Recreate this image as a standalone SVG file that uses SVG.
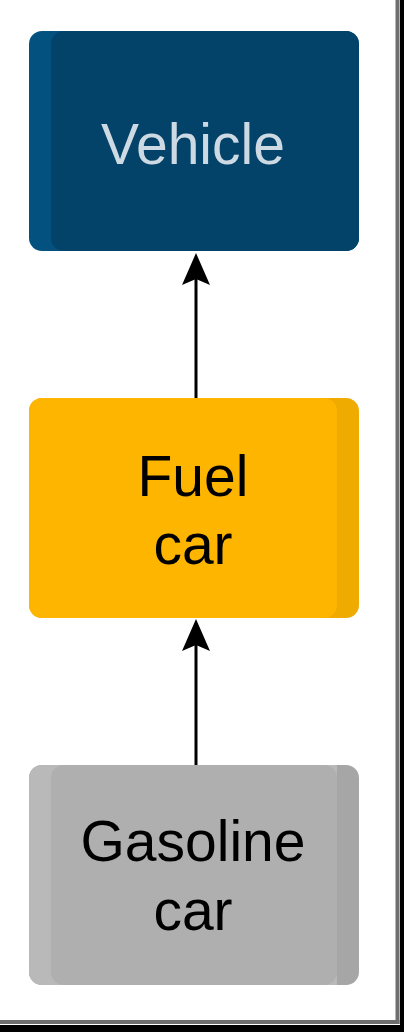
<svg xmlns="http://www.w3.org/2000/svg" width="404" height="1032" viewBox="0 0 404 1032">
  <style>
    .lbl { font-family: "Liberation Sans", Arial, Helvetica, sans-serif; font-size: 57px; text-anchor: middle; }
    .conn { stroke: #000; stroke-width: 3; fill: none; }
  </style>
  <defs>
    <marker id="arr" markerUnits="userSpaceOnUse" markerWidth="34" markerHeight="30" refX="7" refY="15" orient="auto" viewBox="0 0 34 30">
      <path d="M33 15 L1 1 L7 15 L1 29 Z" fill="#000"/>
    </marker>
    <clipPath id="c1"><rect x="29" y="31" width="330" height="220" rx="13"/></clipPath>
    <clipPath id="c2"><rect x="29" y="398" width="330" height="220" rx="13"/></clipPath>
    <clipPath id="c3"><rect x="29" y="765" width="330" height="220" rx="13"/></clipPath>
  </defs>
  <rect width="404" height="1032" fill="#fff"/>
  <!-- frame -->
  <rect x="395.5" y="0" width="4" height="1024" fill="#6e6e6e"/>
  <rect x="0" y="1020" width="399.5" height="4" fill="#6e6e6e"/>
  <rect x="400" y="0" width="4" height="1032" fill="#000"/>
  <rect x="0" y="1025" width="404" height="7" fill="#000"/>

  <g id="connectors">
    <line class="conn" x1="196" y1="398" x2="196" y2="279" marker-end="url(#arr)"/>
    <line class="conn" x1="196" y1="765" x2="196" y2="645" marker-end="url(#arr)"/>
  </g>

  <g id="vehicle">
    <g clip-path="url(#c1)">
      <rect x="29" y="31" width="330" height="220" fill="#02517f"/>
      <rect x="51" y="31" width="330" height="220" rx="13" fill="#03436a"/>
    </g>
    <text class="lbl" x="193" y="164" fill="#cdd9e3">Vehicle</text>
  </g>

  <g id="fuel-car">
    <g clip-path="url(#c2)">
      <rect x="29" y="398" width="330" height="220" fill="#f0ab00"/>
      <rect x="7" y="398" width="330" height="220" rx="13" fill="#feb500"/>
    </g>
    <text class="lbl" x="193" y="496" fill="#000">Fuel</text>
    <text class="lbl" x="193" y="564" fill="#000">car</text>
  </g>

  <g id="gasoline-car">
    <g clip-path="url(#c3)">
      <rect x="29" y="765" width="330" height="220" fill="#a6a6a6"/>
      <rect x="29" y="765" width="308" height="220" fill="#b9b9b9"/>
      <rect x="51" y="765" width="286" height="220" rx="13" fill="#afafaf"/>
    </g>
    <text class="lbl" x="193" y="861" fill="#000">Gasoline</text>
    <text class="lbl" x="193" y="930" fill="#000">car</text>
  </g>
</svg>
